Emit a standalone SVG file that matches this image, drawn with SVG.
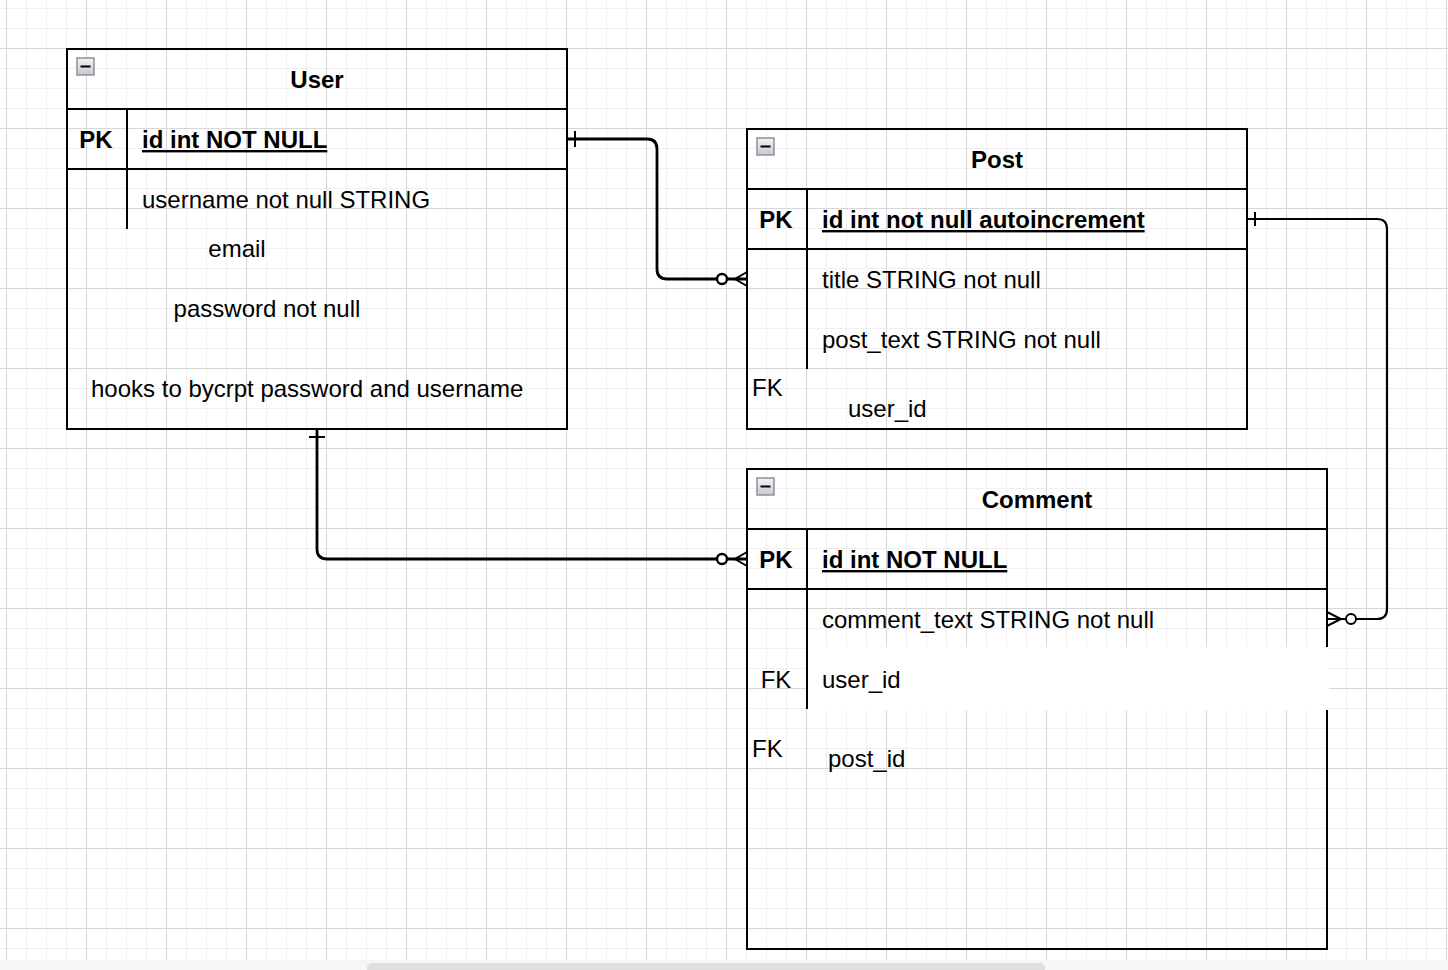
<svg xmlns="http://www.w3.org/2000/svg" width="1448" height="970" viewBox="0 0 1448 970">
<style>
text{font-family:"Liberation Sans",Arial,Helvetica,sans-serif;font-size:24px;fill:#000}
.b{font-weight:bold}
.u{text-decoration:underline}
.tbl{fill:none;stroke:#000;stroke-width:2}
.ln{stroke:#000;stroke-width:2;fill:none}
.cn{stroke:#000;stroke-width:2.2;fill:none;stroke-linejoin:round}
.ck{stroke:#000;stroke-width:2.8;fill:none;stroke-linejoin:round}
.ico{fill:url(#ig);stroke:#8c919d;stroke-width:1.5}
</style>
<defs>
<pattern id="grid" patternUnits="userSpaceOnUse" x="6" y="8" width="80" height="80">
<path d="M0.5 0V80M20.5 0V80M40.5 0V80M60.5 0V80M0 0.5H80M0 20.5H80M0 60.5H80" stroke="#f0f0f0" stroke-width="1" fill="none"/>
<path d="M0.5 0V80M0 40.5H80" stroke="#d6d6d6" stroke-width="1" fill="none"/>
</pattern>
<linearGradient id="ig" x1="0" y1="0" x2="0" y2="1">
<stop offset="0" stop-color="#f4f4f6"/>
<stop offset="1" stop-color="#c6c9d0"/>
</linearGradient>
</defs>
<rect x="0" y="0" width="1448" height="970" fill="#fff"/>
<rect x="0" y="0" width="1448" height="960" fill="url(#grid)"/>
<rect x="0" y="960" width="1448" height="10" fill="#f6f6f6"/>
<rect x="367" y="963" width="678" height="12" rx="5" fill="#dedfde"/>

<g id="user">
<rect class="tbl" x="67" y="49" width="500" height="380"/>
<path class="ln" d="M67 109H567M67 169H567M127 109V229"/>
<rect class="ico" x="77" y="58" width="17" height="17"/>
<path d="M80.5 66.5H90.5" stroke="#000" stroke-width="2"/>
<text class="b" x="317" y="88" text-anchor="middle">User</text>
<text class="b" x="96" y="148" text-anchor="middle">PK</text>
<text class="b u" x="142" y="148">id int NOT NULL</text>
<text x="142" y="208">username not null STRING</text>
<text x="237" y="257" text-anchor="middle">email</text>
<text x="267" y="317" text-anchor="middle">password not null</text>
<text x="91" y="397">hooks to bycrpt password and username</text>
</g>

<g id="post">
<rect class="tbl" x="747" y="129" width="500" height="300"/>
<path class="ln" d="M747 189H1247M747 249H1247M807 189V369"/>
<rect class="ico" x="757" y="138" width="17" height="17"/>
<path d="M760.5 146.5H770.5" stroke="#000" stroke-width="2"/>
<text class="b" x="997" y="168" text-anchor="middle">Post</text>
<text class="b" x="776" y="228" text-anchor="middle">PK</text>
<text class="b u" x="822" y="228">id int not null autoincrement</text>
<text x="822" y="288">title STRING not null</text>
<text x="822" y="348">post_text STRING not null</text>
<text x="752" y="396">FK</text>
<text x="848" y="417">user_id</text>
</g>

<g id="comment">
<rect class="tbl" x="747" y="469" width="580" height="480"/>
<path class="ln" d="M747 529H1327M747 589H1327"/>
<rect x="808" y="647" width="521" height="63" fill="#fff"/>
<path class="ln" d="M807 529V709"/>
<rect class="ico" x="757" y="478" width="17" height="17"/>
<path d="M760.5 486.5H770.5" stroke="#000" stroke-width="2"/>
<text class="b" x="1037" y="508" text-anchor="middle">Comment</text>
<text class="b" x="776" y="568" text-anchor="middle">PK</text>
<text class="b u" x="822" y="568">id int NOT NULL</text>
<text x="822" y="628">comment_text STRING not null</text>
<text x="776" y="688" text-anchor="middle">FK</text>
<text x="822" y="688">user_id</text>
<text x="752" y="757">FK</text>
<text x="828" y="767">post_id</text>
</g>

<g id="connectors">
<path class="ck" d="M567 139H647Q657 139 657 149V269Q657 279 667 279H747"/>
<path class="ln" d="M575 131V147"/>
<path class="ln" d="M747 272L735 279L747 286M735 279H747"/>
<circle cx="722" cy="279" r="5" fill="#fff" stroke="#000" stroke-width="2.4"/>

<path class="cn" d="M1247 219H1377Q1387 219 1387 229V609Q1387 619 1377 619H1327"/>
<path class="ln" d="M1255 212V226"/>
<path class="ln" d="M1327 612L1341 619L1327 626M1341 619H1327"/>
<circle cx="1351" cy="619" r="5" fill="#fff" stroke="#000" stroke-width="2"/>

<path class="ck" d="M317 429V549Q317 559 327 559H747"/>
<path class="ln" d="M309 437H325"/>
<path class="ln" d="M747 552L735 559L747 566M735 559H747"/>
<circle cx="722" cy="559" r="5" fill="#fff" stroke="#000" stroke-width="2.4"/>
</g>
</svg>
